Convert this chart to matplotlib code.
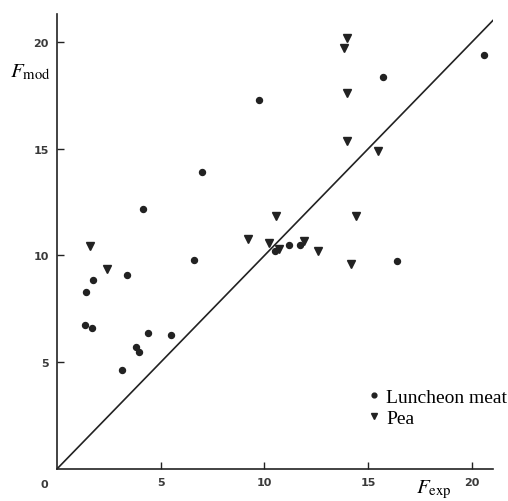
import matplotlib.pyplot as plt

plt.rcParams['mathtext.fontset'] = 'stix'

# Luncheon meat (circles)
meat_x = [1.4, 1.75, 1.35, 1.67, 3.4, 6.6, 4.4, 5.5, 3.8, 3.95, 3.15,
          4.15, 7.0, 9.75, 15.7, 20.6, 10.5, 11.2, 11.7, 16.4]
meat_y = [8.3, 8.85, 6.75, 6.6, 9.1, 9.8, 6.35, 6.3, 5.7, 5.5, 4.65,
          12.2, 13.9, 17.3, 18.35, 19.4, 10.2, 10.5, 10.5, 9.75]

# Pea (triangles)
pea_x = [1.6, 2.4, 9.2, 10.2, 10.7, 11.9, 12.6, 10.55, 14.4,
         14.0, 13.85, 14.0, 14.0, 15.45, 14.15]
pea_y = [10.45, 9.35, 10.75, 10.6, 10.3, 10.7, 10.2, 11.85, 11.85,
         20.2, 19.7, 17.6, 15.35, 14.9, 9.6]

line_x = [0, 21.1]
line_y = [0, 21.1]

ticks = [5, 10, 15, 20]

ink = '#222222'
lab = '#3a3a3a'

fig = plt.figure(figsize=(5.08, 5.02), dpi=100)
ax = fig.add_axes([0.112, 0.0637, 0.858, 0.906])

ax.plot(line_x, line_y, color=ink, lw=1.2)
ax.plot(meat_x, meat_y, 'o', color=ink, ms=4.3, ls='none', label='Luncheon meat')
ax.plot(pea_x, pea_y, 'v', color=ink, ms=5.2, ls='none', label='Pea')

ax.set_xlim(0, 21.0)
ax.set_ylim(0, 21.3)
for s in ['top', 'right']:
    ax.spines[s].set_visible(False)
for s in ['left', 'bottom']:
    ax.spines[s].set_color(ink)
    ax.spines[s].set_linewidth(1.2)

ax.set_xticks(ticks)
ax.set_yticks(ticks)
ax.tick_params(direction='in', length=5, width=1, color=ink,
               labelsize=8, labelcolor=lab, pad=6)
for t in ax.get_xticklabels() + ax.get_yticklabels():
    t.set_fontweight('bold')
ax.text(-0.63, -0.45, '0', fontsize=8, fontweight='bold', color=lab,
        ha='center', va='top')

fig.text(0.02, 0.857, r'$F_{\mathrm{mod}}$', fontsize=15, va='center', ha='left')
fig.text(0.818, 0.018, r'$F_{\mathrm{exp}}$', fontsize=15, va='baseline', ha='left')

ax.legend(loc='upper left', bbox_to_anchor=(0.715, 0.178), frameon=False,
          prop={'family': 'Liberation Serif', 'size': 14},
          handlelength=0.6, handletextpad=0.3, labelspacing=0.2,
          borderpad=0, borderaxespad=0, markerscale=0.8)

fig.savefig('out.png', dpi=100)
